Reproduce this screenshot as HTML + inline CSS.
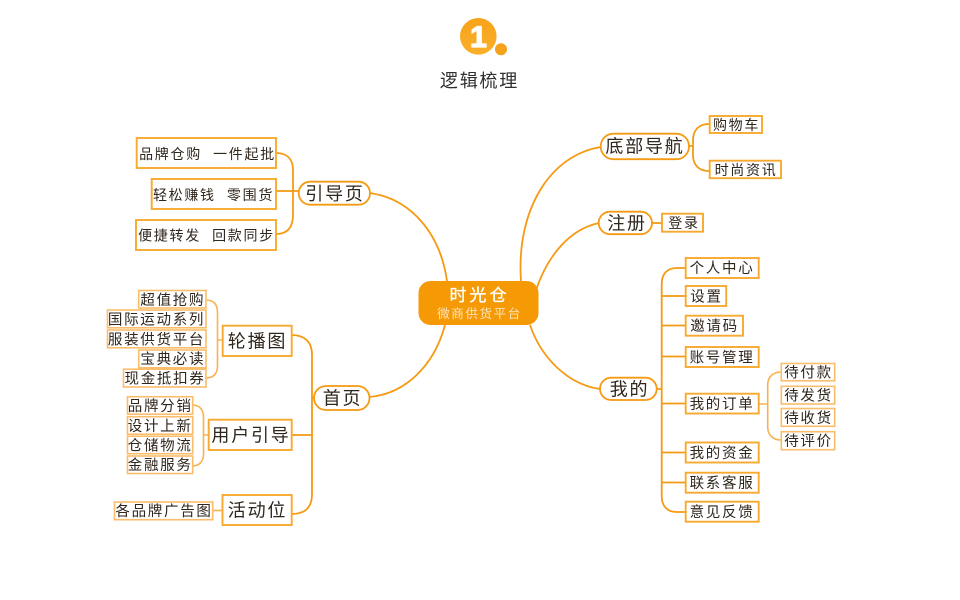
<!DOCTYPE html>
<html lang="zh"><head><meta charset="utf-8"><style>
html,body{margin:0;padding:0;background:#fff}
svg{display:block}
text{font-family:"Liberation Sans","Noto Sans CJK SC",sans-serif;fill:#2f261c;text-anchor:middle;white-space:pre}
.t1{font-size:18px;letter-spacing:1.800px}
.t2{font-size:14.500px;letter-spacing:1.700px}
.t3{font-size:14px;letter-spacing:1.700px}
.p{fill:#fff;stroke:#f59a12;stroke-width:1.800}
.b1{fill:#fff;stroke:#f8a92f;stroke-width:1.900}
.b2{fill:#fff;stroke:#fabd6b;stroke-width:1.600}
.c{fill:none;stroke:#f59a12;stroke-width:1.800}
.c2{fill:none;stroke:#f8b252;stroke-width:1.600}
</style></head><body>
<svg width="960" height="600" viewBox="0 0 960 600" xmlns="http://www.w3.org/2000/svg">
<defs><linearGradient id="g" x1="0" y1="0" x2="0" y2="1"><stop offset="0" stop-color="#f7a21b"/><stop offset="1" stop-color="#fbb02a"/></linearGradient></defs>
<circle cx="478.300" cy="36.300" r="18.300" fill="url(#g)"/>
<circle cx="501" cy="49.300" r="6" fill="#f5a11c"/>
<text x="478.500" y="47" style="font-size:30px;font-weight:bold;fill:#fff;stroke:#fff;stroke-width:1.200">1</text>
<text x="479.500" y="87" style="font-size:18px;letter-spacing:1.800px;fill:#2f2f2f">逻辑梳理</text>

<!-- main curves -->
<path class="c" d="M370 193C410 199 440 232 447 281"/>
<path class="c" d="M369 397C405 394 434 366 445 325"/>
<path class="c" d="M601 147C550 155 516 210 521 281"/>
<path class="c" d="M599 223C570 229 548 255 536 290"/>
<path class="c" d="M600 389C570 385 542 360 530 325"/>

<!-- left connectors -->
<path class="c" d="M276 153C287 153 293 159 293 170V215C293 228 287 234 276 234M276 191H299"/>
<path class="c" d="M291 335C305 335 312 342 312 355V494C312 508 305 514 291 514M291 435H312M312 398H315"/>
<path class="c2" d="M206 300C213 300 217.500 304 217.500 312V366C217.500 374 213 378 206 378M217.500 340H223"/>
<path class="c2" d="M192 405C199 405 203.500 409 203.500 417V454C203.500 462 199 466 192 466M203.500 435H209"/>
<path class="c2" d="M212 510.500H222"/>

<!-- right connectors -->
<path class="c" d="M689 146H693M709 124C699 124 693 130 693 140V155C693 165 699 171 709 171"/>
<path class="c" d="M652 223H662"/>
<path class="c" d="M686 268H677C667 268 661.700 274 661.700 284V496C661.700 506 667 512 677 512H686M661.700 296H686M661.700 325.500H686M661.700 356.500H686M661.700 403.500H686M661.700 452.500H686M661.700 482.500H686M656 389H662"/>
<path class="c2" d="M759 404H768M781 372C773 372 767.700 377 767.700 385V427C767.700 435 773 440 781 440"/>

<!-- centre -->
<rect x="418.500" y="281" width="120" height="44" rx="12" fill="#f59a05"/>
<text x="479.500" y="301" style="font-size:17px;font-weight:normal;letter-spacing:3px;fill:#fff;stroke:#fff;stroke-width:.3">时光仓</text>
<text x="479.500" y="318" style="font-size:12.500px;letter-spacing:1.600px;fill:#fde3b8">微商供货平台</text>

<!-- pills -->
<rect class="p" x="298.700" y="181.700" width="71.300" height="23" rx="11.500"/><text class="t1" x="335" y="200">引导页</text>
<rect class="p" x="314" y="386" width="55.500" height="24" rx="12"/><text class="t1" x="342.500" y="404.500">首页</text>
<rect class="p" x="600.700" y="133.700" width="88.300" height="25.500" rx="12.700"/><text class="t1" x="645" y="152.500">底部导航</text>
<rect class="p" x="598.700" y="211.700" width="53.300" height="22.500" rx="11.200"/><text class="t1" x="627" y="229.500">注册</text>
<rect class="p" x="600" y="377.700" width="56.700" height="22.300" rx="11.100"/><text class="t1" x="629.500" y="395.500">我的</text>

<!-- left boxes -->
<rect class="b1" x="136.700" y="138" width="139.300" height="30"/><text class="t3" x="207.500" y="159">品牌仓购  一件起批</text>
<rect class="b1" x="151.700" y="179" width="124.300" height="30"/><text class="t3" x="213.500" y="200">轻松赚钱  零围货</text>
<rect class="b1" x="136" y="220" width="140" height="30"/><text class="t3" x="206.500" y="240.500">便捷转发  回款同步</text>

<rect class="b1" x="222.700" y="325.700" width="69" height="30.300"/><text class="t1" x="257.500" y="347.500">轮播图</text>
<rect class="b1" x="208.700" y="419.700" width="83" height="30.300"/><text class="t1" x="251" y="441.500">用户引导</text>
<rect class="b1" x="222.500" y="495" width="69.200" height="30"/><text class="t1" x="257.500" y="516.500">活动位</text>

<rect class="b2" x="138.700" y="290.500" width="67.300" height="17.500"/><text class="t2" x="172.800" y="304.800">超值抢购</text>
<rect class="b2" x="107.500" y="310" width="98.500" height="17.800"/><text class="t2" x="156.500" y="324.500">国际运动系列</text>
<rect class="b2" x="107.500" y="330" width="98.500" height="17.800"/><text class="t2" x="156.500" y="344.500">服装供货平台</text>
<rect class="b2" x="138.700" y="350" width="67.300" height="17.800"/><text class="t2" x="172.800" y="364">宝典必读</text>
<rect class="b2" x="123.500" y="369.200" width="82.500" height="17.800"/><text class="t2" x="165" y="383.500">现金抵扣券</text>

<rect class="b2" x="127.500" y="396.700" width="65.200" height="17.500"/><text class="t2" x="160.200" y="411">品牌分销</text>
<rect class="b2" x="127.500" y="416.700" width="65.200" height="17.500"/><text class="t2" x="160.200" y="431">设计上新</text>
<rect class="b2" x="127.500" y="436.200" width="65.200" height="17.500"/><text class="t2" x="160.200" y="450.500">仓储物流</text>
<rect class="b2" x="127.500" y="456" width="65.200" height="17.500"/><text class="t2" x="160.200" y="470">金融服务</text>
<rect class="b2" x="114.500" y="502" width="98.200" height="17.700"/><text class="t2" x="164" y="516">各品牌广告图</text>

<!-- right boxes -->
<rect class="b1" x="709.700" y="116" width="52.300" height="17"/><text class="t3" x="736.500" y="130">购物车</text>
<rect class="b1" x="709.700" y="160.700" width="71.300" height="17.500"/><text class="t3" x="746" y="175">时尚资讯</text>
<rect class="b1" x="662" y="213.700" width="41" height="18"/><text class="t3" x="684" y="228">登录</text>

<rect class="b1" x="685.700" y="258" width="73" height="20"/><text class="t2" x="722" y="273">个人中心</text>
<rect class="b1" x="685.700" y="286" width="40.500" height="20"/><text class="t2" x="706.500" y="301.500">设置</text>
<rect class="b1" x="685.700" y="315.700" width="57.300" height="20"/><text class="t2" x="714.500" y="331">邀请码</text>
<rect class="b1" x="685.700" y="347" width="73" height="20"/><text class="t2" x="722" y="362.500">账号管理</text>
<rect class="b1" x="685.700" y="393.700" width="73" height="19.800"/><text class="t2" x="722" y="409">我的订单</text>
<rect class="b1" x="685.700" y="442.500" width="73" height="20"/><text class="t2" x="722" y="458">我的资金</text>
<rect class="b1" x="685.700" y="472.700" width="73" height="20"/><text class="t2" x="722" y="488">联系客服</text>
<rect class="b1" x="685.700" y="501.700" width="73" height="20"/><text class="t2" x="722" y="517">意见反馈</text>

<rect class="b2" x="781.300" y="363.500" width="53.400" height="17.300"/><text class="t2" x="808.500" y="377.500">待付款</text>
<rect class="b2" x="781.300" y="386.300" width="53.400" height="17.700"/><text class="t2" x="808.500" y="400.500">待发货</text>
<rect class="b2" x="781.300" y="408.500" width="53.400" height="17.800"/><text class="t2" x="808.500" y="423">待收货</text>
<rect class="b2" x="781.300" y="431.700" width="53.400" height="18"/><text class="t2" x="808.500" y="446">待评价</text>
</svg>
</body></html>
